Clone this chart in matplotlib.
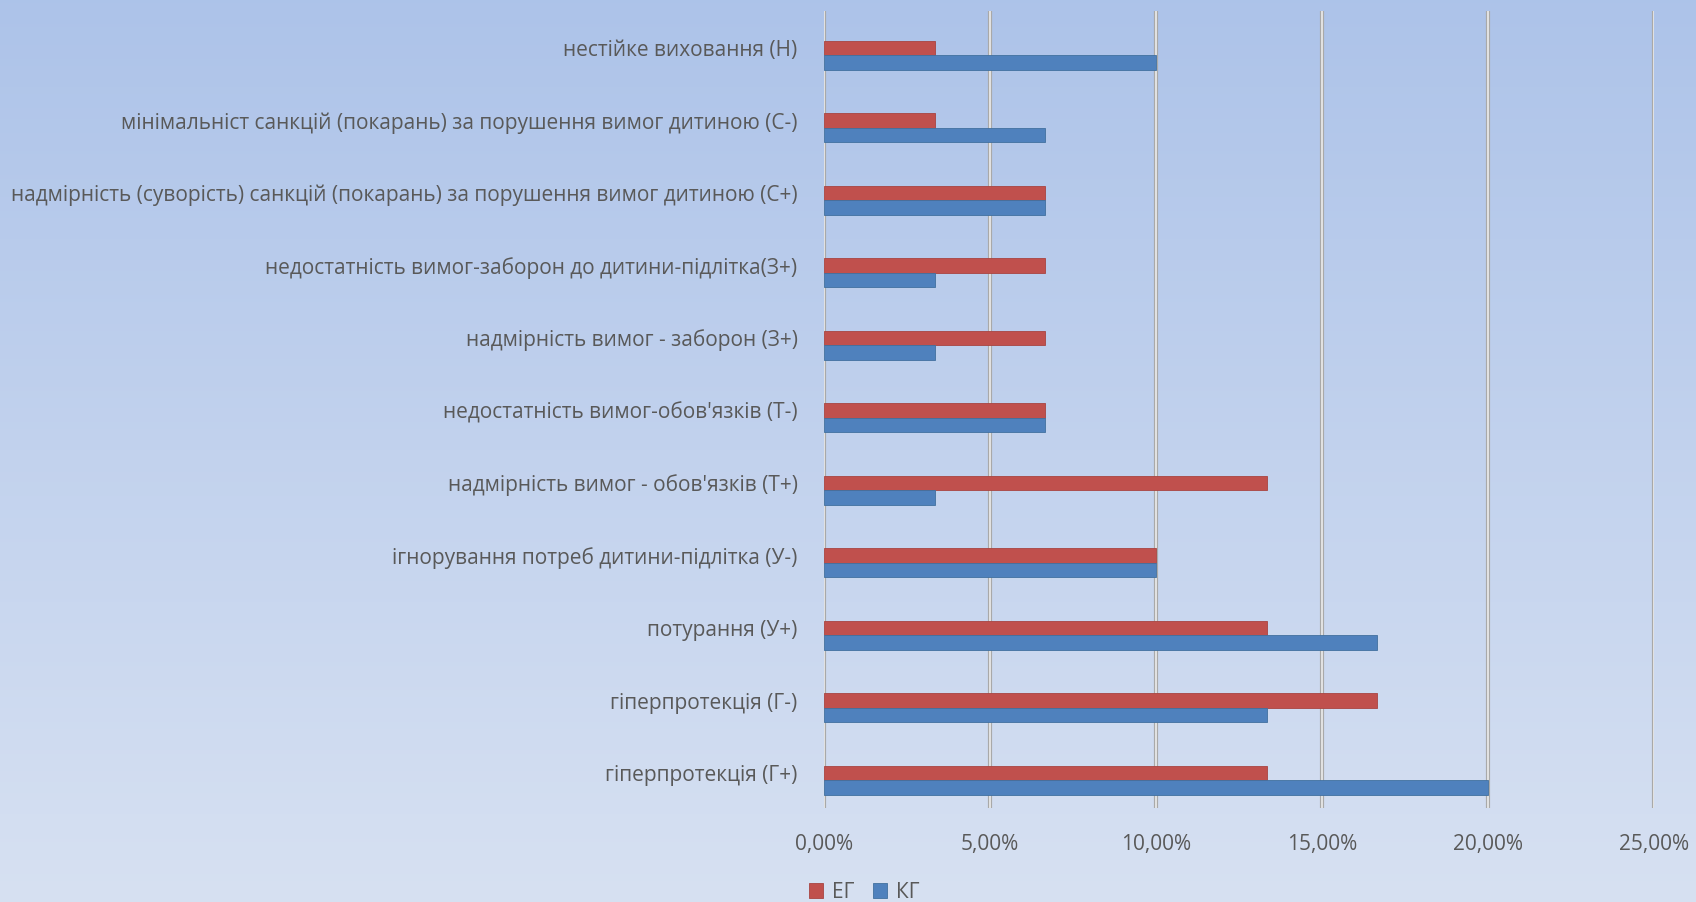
import numpy as np
import matplotlib
matplotlib.use("Agg")
import matplotlib.pyplot as plt
import matplotlib.patheffects as pe
from matplotlib.transforms import ScaledTranslation
from matplotlib.ticker import FuncFormatter

# categories, bottom to top
categories = [
    "гіперпротекція (Г+)",
    "гіперпротекція (Г-)",
    "потурання (У+)",
    "ігнорування потреб дитини-підлітка (У-)",
    "надмірність вимог - обов'язків (Т+)",
    "недостатність вимог-обов'язків (Т-)",
    "надмірність вимог - заборон (З+)",
    "недостатність вимог-заборон до дитини-підлітка(З+)",
    "надмірність (суворість) санкцій (покарань) за порушення вимог дитиною (С+)",
    "мінімальніст санкцій (покарань) за порушення вимог дитиною (С-)",
    "нестійке виховання (Н)",
]
eg = [13.33, 16.67, 13.33, 10.0, 13.33, 6.67, 6.67, 6.67, 6.67, 3.33, 3.33]
kg = [20.0, 13.33, 16.67, 10.0, 3.33, 6.67, 3.33, 3.33, 6.67, 6.67, 10.0]
series_names = ["ЕГ", "КГ"]
xticks = [0, 5, 10, 15, 20, 25]

plt.rcParams["font.family"] = ["Open Sans", "DejaVu Sans"]
TEXT = "#595959"
RED = "#c0504d"
BLUE = "#4f81bd"

fig = plt.figure(figsize=(16.96, 9.03), dpi=100)

# gradient background
bg = fig.add_axes([0, 0, 1, 1], zorder=-10)
top = np.array([0.678, 0.765, 0.914])
bot = np.array([0.843, 0.882, 0.949])
t = np.linspace(0, 1, 256)[:, None]
grad = top[None, :] * (1 - t) + bot[None, :] * t
bg.imshow(grad[:, None, :], aspect="auto", extent=[0, 1, 0, 1])
bg.axis("off")

ax = fig.add_axes([824 / 1696, 1 - 809 / 903, (1654 - 824) / 1696, (809 - 12) / 903])
ax.patch.set_alpha(0)

y = np.arange(len(categories))
h = 0.2
ax.barh(y + h / 2, eg, height=h, color=RED, edgecolor="#a84441", linewidth=0.6,
        label=series_names[0], zorder=3)
ax.barh(y - h / 2, kg, height=h, color=BLUE, edgecolor="#41709f", linewidth=0.6,
        label=series_names[1], zorder=3)

ax.set_xlim(0, 25)
ax.set_ylim(-0.386, len(categories) - 1 + 0.607)

for xv in xticks:
    ax.axvline(xv, color="#ededed", linewidth=1.2, zorder=2,
               path_effects=[pe.Stroke(linewidth=3.0, foreground="#a9a9a9"), pe.Normal()])

ax.set_xticks(xticks)
ax.xaxis.set_major_formatter(FuncFormatter(lambda v, p: f"{v:.2f}%".replace(".", ",")))
ax.set_yticks(y)
ax.set_yticklabels(categories)
ax.tick_params(axis="both", length=0, labelsize=15, colors=TEXT)
ax.tick_params(axis="y", pad=19)
ax.tick_params(axis="x", pad=18)
for lab in ax.get_yticklabels():
    lab.set_transform(lab.get_transform() + ScaledTranslation(0, 8 / 100, fig.dpi_scale_trans))
for s in ax.spines.values():
    s.set_visible(False)

leg = fig.legend(loc="center", bbox_to_anchor=(864 / 1696, 1 - 893 / 903), ncol=2,
                 frameon=False, fontsize=15, handlelength=0.7, handleheight=0.7,
                 handletextpad=0.4, columnspacing=0.9, labelcolor=TEXT)

fig.savefig("out.png", dpi=100)
